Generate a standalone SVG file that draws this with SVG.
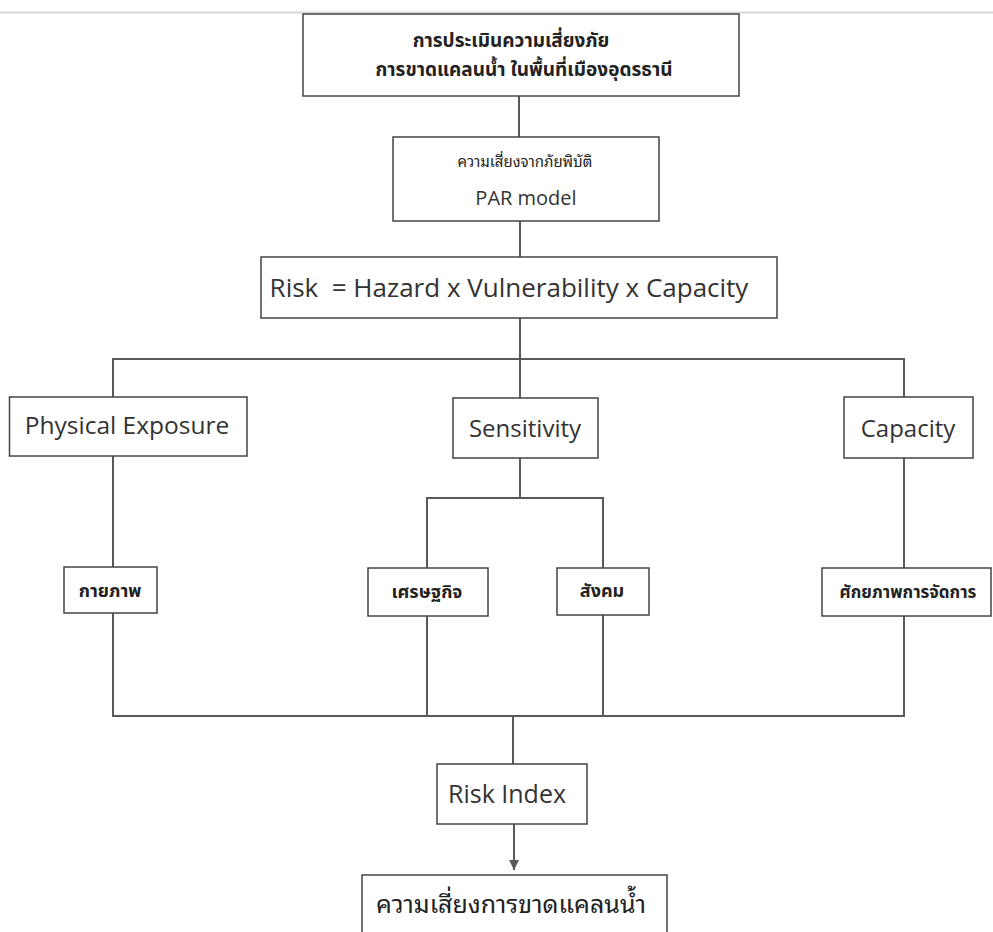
<svg xmlns="http://www.w3.org/2000/svg" width="993" height="932" viewBox="0 0 993 932">
<style>
.box{fill:#fff;stroke:#444;stroke-width:1.5}
.ln{fill:none;stroke:#595959;stroke-width:2}
.en{font-family:"Open Sans","Noto Sans","Noto Sans Thai Looped","Noto Sans Thai",sans-serif;fill:#333;text-anchor:middle}
.th{font-family:"Noto Sans Thai Looped","Noto Sans Thai","Tahoma","DejaVu Sans",sans-serif;fill:#222;text-anchor:middle}
.thb{font-family:"Noto Sans Thai","Tahoma","DejaVu Sans",sans-serif;fill:#222;text-anchor:middle;font-weight:bold}
</style>
<defs>
<marker id="arr" viewBox="0 0 10 10" refX="10" refY="5" markerWidth="10" markerHeight="10" markerUnits="userSpaceOnUse" orient="auto">
<path d="M0,0 L10,5 L0,10 z" fill="#595959"/>
</marker>
</defs>
<rect width="993" height="932" fill="#fff"/>
<line x1="0" y1="12.5" x2="993" y2="12.5" stroke="#d8d8d8" stroke-width="2"/>
<g id="connectors">
<path class="ln" d="M519,96 V137"/>
<path class="ln" d="M520,221 V257"/>
<path class="ln" d="M520,318 V359"/>
<path class="ln" d="M113,397 V359 H904 V397"/>
<path class="ln" d="M520,359 V398"/>
<path class="ln" d="M113,456 V567"/>
<path class="ln" d="M520,458 V498"/>
<path class="ln" d="M427,568 V498 H603 V568"/>
<path class="ln" d="M904,458 V568"/>
<path class="ln" d="M113,613 V716 H904 V616"/>
<path class="ln" d="M427,616 V716"/>
<path class="ln" d="M603,615 V716"/>
<path class="ln" d="M513,716 V764"/>
<path class="ln" d="M514,824 V870" stroke-width="1.5" marker-end="url(#arr)"/>
</g>
<g id="title">
<rect class="box" x="303" y="14" width="436" height="82"/>
<text class="thb" x="511" y="47" font-size="19">การประเมินความเสี่ยงภัย</text>
<text class="thb" x="524" y="76" font-size="19">การขาดแคลนน้ำ ในพื้นที่เมืองอุดรธานี</text>
</g>
<g id="par">
<rect class="box" x="393" y="137" width="266" height="84"/>
<text class="th" x="525" y="167" font-size="15">ความเสี่ยงจากภัยพิบัติ</text>
<text class="en" x="526" y="205" font-size="20">PAR model</text>
</g>
<g id="risk">
<rect class="box" x="261" y="257" width="516" height="61"/>
<text class="en" x="509" y="297" font-size="26" xml:space="preserve">Risk  = Hazard x Vulnerability x Capacity</text>
</g>
<g id="physical">
<rect class="box" x="9.5" y="397" width="237.5" height="59"/>
<text class="en" x="127" y="434" font-size="24.5">Physical Exposure</text>
</g>
<g id="sensitivity">
<rect class="box" x="453" y="398" width="145" height="60"/>
<text class="en" x="525" y="437" font-size="24">Sensitivity</text>
</g>
<g id="capacity">
<rect class="box" x="844" y="397" width="129" height="61"/>
<text class="en" x="908" y="437" font-size="24">Capacity</text>
</g>
<g id="kaiyaphap">
<rect class="box" x="64" y="567" width="93" height="46"/>
<text class="thb" x="110" y="597" font-size="18">กายภาพ</text>
</g>
<g id="setthakit">
<rect class="box" x="368" y="568" width="120" height="48"/>
<text class="thb" x="427" y="598" font-size="18">เศรษฐกิจ</text>
</g>
<g id="sangkhom">
<rect class="box" x="557" y="568" width="92" height="47"/>
<text class="thb" x="602" y="597" font-size="18">สังคม</text>
</g>
<g id="sakkayaphap">
<rect class="box" x="822" y="568" width="169" height="48"/>
<text class="thb" x="908" y="598" font-size="17">ศักยภาพการจัดการ</text>
</g>
<g id="riskindex">
<rect class="box" x="437" y="764" width="150" height="60"/>
<text class="en" x="507" y="803" font-size="25">Risk Index</text>
</g>
<g id="result">
<rect class="box" x="362" y="875" width="305" height="70"/>
<text class="th" x="511" y="913" font-size="25">ความเสี่ยงการขาดแคลนน้ำ</text>
</g>
</svg>
